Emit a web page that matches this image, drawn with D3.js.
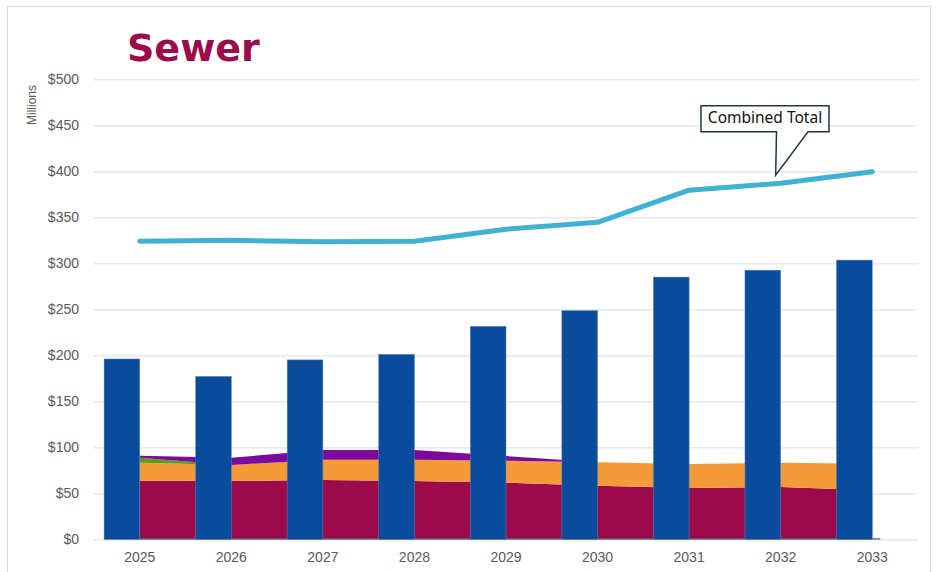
<!DOCTYPE html>
<html>
<head>
<meta charset="utf-8">
<script src="https://cdn.jsdelivr.net/npm/d3@7"></script>
<style>
  html, body { margin: 0; padding: 0; background: #ffffff; }
  svg { display: block; }
</style>
</head>
<body>
<svg id="chart" width="936" height="572"></svg>
<script>
// Sewer revenue requirement, $ millions
const years = ["2025", "2026", "2027", "2028", "2029", "2030", "2031", "2032", "2033"];
const capitalSpend  = [196, 177, 195, 201, 231.5, 248.5, 285, 292.5, 303.5];
const combinedTotal = [324, 325, 323.5, 324, 337, 344.5, 379.5, 387, 399.5];
// stacked layers, bottom to top
const operations  = [63.7, 63.4, 64.5, 63.4, 61.5, 58.3, 55.8, 56.8, 53.3];
const debtService = [19.6, 17.4, 22.0, 23.1, 23.9, 25.4, 26.0, 26.5, 28.7];
const reserves    = [5.4, 0, 0, 0, 0, 0, 0, 0, 0];
const transfers   = [2.2, 7.9, 10.5, 10.5, 5.1, 0, 0, 0, 0];
const yTicks = [0, 50, 100, 150, 200, 250, 300, 350, 400, 450, 500];

const svg = d3.select("#chart");
const plotLeft = 94, plotRight = 918, plotTop = 79.3, plotBottom = 539.3;

const x = d3.scaleBand().domain(years).range([plotLeft, plotRight]).padding(0);
const bw = x.bandwidth();
const cx = d => x(d) + bw / 2;
const y = d3.scaleLinear().domain([0, 500]).range([plotBottom, plotTop]);
const fmt = d => "$" + d3.format(",")(d);

// outer frame
svg.append("rect")
  .attr("x", 7.5).attr("y", 6.5).attr("width", 923).attr("height", 580)
  .attr("fill", "none").attr("stroke", "#d9d9d9").attr("stroke-width", 1);

// title
svg.append("text")
  .attr("x", 127).attr("y", 61)
  .attr("font-family", "DejaVu Sans, sans-serif")
  .attr("font-weight", "bold").attr("font-size", 38)
  .attr("fill", "#9b0a4b")
  .text("Sewer");

// horizontal gridlines + y tick labels
const yAxis = d3.axisLeft(y).tickValues(yTicks).tickFormat(fmt)
  .tickSize(-(plotRight - plotLeft)).tickPadding(15);
const gy = svg.append("g").attr("transform", `translate(${plotLeft},0)`).call(yAxis);
gy.select(".domain").remove();
gy.selectAll(".tick line").attr("stroke", "#e3e3e3").attr("stroke-width", 1.2);
gy.selectAll(".tick text")
  .attr("font-family", "Liberation Sans, Arial, sans-serif")
  .attr("font-size", 14).attr("fill", "#595959");

// axis title
svg.append("text")
  .attr("transform", "translate(36,105) rotate(-90)")
  .attr("text-anchor", "middle")
  .attr("font-family", "Liberation Sans, Arial, sans-serif")
  .attr("font-size", 12).attr("fill", "#595959")
  .text("Millions");

// x axis labels
const xAxis = d3.axisBottom(x).tickSize(0).tickPadding(13);
const gx = svg.append("g").attr("transform", `translate(0,${plotBottom})`).call(xAxis);
gx.select(".domain").remove();
gx.selectAll(".tick text")
  .attr("font-family", "Liberation Sans, Arial, sans-serif")
  .attr("font-size", 14).attr("fill", "#595959");

// stacked areas between category centres
const rows = years.map((yr, i) => ({
  year: yr,
  operations: operations[i],
  debtService: debtService[i],
  reserves: reserves[i],
  transfers: transfers[i]
}));
const keys = ["operations", "debtService", "reserves", "transfers"];
const colors = {
  operations: "#9b0a4a",
  debtService: "#f59a38",
  reserves: "#5a9e1c",
  transfers: "#7a0a9a"
};
const stacked = d3.stack().keys(keys)(rows);
const area = d3.area()
  .x(d => cx(d.data.year))
  .y0(d => y(d[0]))
  .y1(d => y(d[1]));
svg.append("g").selectAll("path").data(stacked).join("path")
  .attr("d", area)
  .attr("fill", d => colors[d.key]);

// baseline rule
svg.append("line")
  .attr("x1", cx(years[0]) - bw * 0.39).attr("x2", cx(years[years.length - 1]) + 8)
  .attr("y1", plotBottom - 0.5).attr("y2", plotBottom - 0.5)
  .attr("stroke", "#4d6276").attr("stroke-width", 1.2);

// capital bars, right edge on the category centre
svg.append("g").selectAll("rect").data(years).join("rect")
  .attr("x", d => cx(d) - bw * 0.39)
  .attr("width", bw * 0.39)
  .attr("y", (d, i) => y(capitalSpend[i]))
  .attr("height", (d, i) => y(0) - y(capitalSpend[i]))
  .attr("fill", "#0a4c9b")
  .attr("stroke", "#5d84bd").attr("stroke-width", 0.5);

// combined total line
const line = d3.line().x((d, i) => cx(years[i])).y(d => y(d));
svg.append("path")
  .datum(combinedTotal)
  .attr("d", line)
  .attr("fill", "none")
  .attr("stroke", "#40b1d3")
  .attr("stroke-width", 5)
  .attr("stroke-linecap", "round")
  .attr("stroke-linejoin", "round");

// callout for the combined total line
const tipX = cx("2032") - 5, tipY = y(combinedTotal[7]) - 8;
const bx0 = 701, bx1 = 829, by0 = 105.7, by1 = 131.7;
const callout = svg.append("g");
callout.append("path")
  .attr("d", `M${bx0},${by0} H${bx1} V${by1} H${808} L${tipX},${tipY} L${776.5},${by1} H${bx0} Z`)
  .attr("fill", "#ffffff").attr("stroke", "#1f3849").attr("stroke-width", 1.5)
  .attr("stroke-linejoin", "miter");
callout.append("text")
  .attr("x", (bx0 + bx1) / 2).attr("y", 123)
  .attr("text-anchor", "middle")
  .attr("font-family", "Noto Sans, Liberation Sans, sans-serif")
  .attr("font-size", 15.5).attr("fill", "#111111")
  .text("Combined Total");
</script>
</body>
</html>
